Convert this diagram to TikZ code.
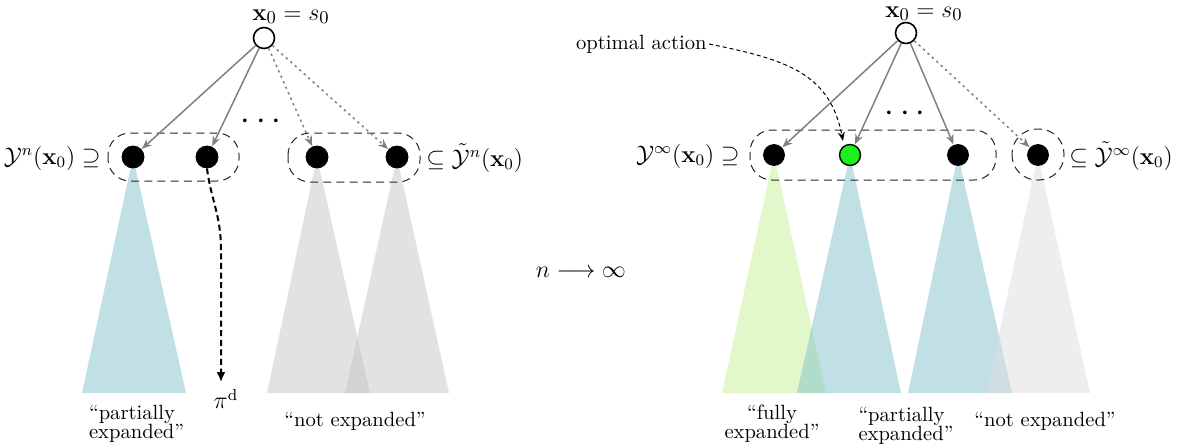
\documentclass[tikz,border=0pt]{standalone}
\usepackage{amsmath,amssymb}
\usetikzlibrary{arrows.meta}
\definecolor{triblue}{RGB}{131,193,203}
\definecolor{trigray}{RGB}{197,197,201}
\definecolor{trigrayl}{RGB}{221,221,225}
\definecolor{trigreen}{RGB}{197,239,149}
\definecolor{optgreen}{RGB}{30,240,30}
\tikzset{
  every node/.style={font=\fontsize{10.3pt}{12pt}\selectfont},
  mathlbl/.style={font=\fontsize{11.5pt}{13pt}\selectfont, inner sep=1pt},
  biglbl/.style={font=\fontsize{12.3pt}{14pt}\selectfont, inner sep=1pt},
  snode/.style={circle, fill=black, draw=black, minimum size=11pt, inner sep=0pt},
  rootnode/.style={circle, draw=black, fill=white, line width=0.8pt, minimum size=10.5pt, inner sep=0pt},
  grp/.style={draw=black!85, dash pattern=on 4pt off 2.6pt, rounded corners=11pt, line width=0.5pt},
  solidarr/.style={draw=black!50, line width=0.75pt, -{Stealth[length=5pt,width=4pt]}, shorten >=0.3pt},
  dotarr/.style={solidarr, dash pattern=on 1.2pt off 1.8pt},
  tri/.style={fill opacity=0.5, draw=none},
  lbl/.style={font=\fontsize{10.3pt}{9.6pt}\selectfont},
  dotsnode/.style={font=\fontsize{19pt}{20pt}\selectfont, inner sep=0pt}
}
\begin{document}
\begin{tikzpicture}[x=0.5pt,y=-0.5pt]
\useasboundingbox (0,0) rectangle (1183,445);

% ---------- left tree ----------
\fill[tri, fill=triblue] (133,157) -- (82,393) -- (186,393) -- cycle;
\fill[tri, fill=trigray] (317,157) -- (267,393) -- (370,393) -- cycle;
\fill[tri, fill=trigray] (397,157) -- (345,393) -- (449,393) -- cycle;

\node[rootnode] (L0) at (264,38) {};
\node[biglbl, anchor=base] (L0lab) at (291,20) {$\mathbf{x}_0 = s_0$};
\node[snode] (a1) at (133,157) {};
\node[snode] (a2) at (207,157) {};
\node[snode] (a3) at (317,157) {};
\node[snode] (a4) at (397,157) {};
\node[dotsnode] (Ldots) at (264,122) {$\cdots$};

\draw[grp] (108,133) rectangle (239,181);
\draw[grp] (288,133) rectangle (420,182);

\node[mathlbl, anchor=east] (Ly) at (103,158) {$\mathcal{Y}^n(\mathbf{x}_0) \supseteq$};
\node[mathlbl, anchor=west] (Lyt) at (424,158) {$\subseteq \tilde{\mathcal{Y}}^n(\mathbf{x}_0)$};

\draw[solidarr] (L0) -- (a1);
\draw[solidarr] (L0) -- (a2);
\draw[dotarr] (L0) -- (a3);
\draw[dotarr] (L0) -- (a4);

\node[mathlbl] (pid) at (226,399) {$\pi^{\mathrm{d}}$};
\coordinate (pidtip) at (221,382);
\draw[line width=1pt, dash pattern=on 3pt off 1.8pt, -{Latex[length=5pt,width=4.5pt]}]
  (a2.south) .. controls (211,200) and (221,215) .. (221,250) -- (pidtip);

\node[lbl, align=left, anchor=west] (Lpe) at (82,424) {``partially\\expanded''};
\node[lbl, align=center] (Lne) at (355,421) {``not expanded''};

% ---------- middle ----------
\node[biglbl] (lim) at (581,272) {$n \longrightarrow \infty$};

% ---------- right tree ----------
\fill[tri, fill=trigreen] (774,155) -- (722,393) -- (826,393) -- cycle;
\fill[tri, fill=triblue] (850,155) -- (797,393) -- (901,393) -- cycle;
\fill[tri, fill=triblue] (958,155) -- (908,393) -- (1012,393) -- cycle;
\fill[tri, fill=trigrayl] (1038,155) -- (986,393) -- (1090,393) -- cycle;

\node[rootnode] (R0) at (906,33) {};
\node[biglbl, anchor=base] (R0lab) at (924,17) {$\mathbf{x}_0 = s_0$};
\node[snode, minimum size=10.5pt] (b1) at (774,155) {};
\node[snode, minimum size=10.5pt, fill=optgreen, line width=0.7pt] (b2) at (850,155) {};
\node[snode, minimum size=10.5pt] (b3) at (958,155) {};
\node[snode, minimum size=10.5pt] (b4) at (1038,155) {};
\node[dotsnode] (Rdots) at (908,114) {$\cdots$};

\draw[grp] (750,130) rectangle (996,180);
\draw[grp, rounded corners=12.5pt] (1012,129) rectangle (1064,180);

\node[mathlbl, anchor=east] (Ry) at (742,156) {$\mathcal{Y}^\infty(\mathbf{x}_0) \supseteq$};
\node[mathlbl, anchor=west] (Ryt) at (1067,156) {$\subseteq \tilde{\mathcal{Y}}^\infty(\mathbf{x}_0)$};

\draw[solidarr] (R0) -- (b1);
\draw[solidarr] (R0) -- (b2);
\draw[solidarr] (R0) -- (b3);
\draw[dotarr] (R0) -- (b4);

\node[anchor=east, inner sep=1pt] (opt) at (709,44) {optimal action};
\draw[line width=0.5pt, dash pattern=on 2pt off 1.5pt, -{Stealth[length=4.5pt,width=3.5pt]}]
  (opt.east) .. controls (790,60) and (830,75) .. (843,141);

\node[lbl, align=center] (Rfe) at (772,424) {``fully\\expanded''};
\node[lbl, align=left] (Rpe) at (906,426) {``partially\\expanded''};
\node[lbl, align=center] (Rne) at (1045,421) {``not expanded''};
\end{tikzpicture}
\end{document}
